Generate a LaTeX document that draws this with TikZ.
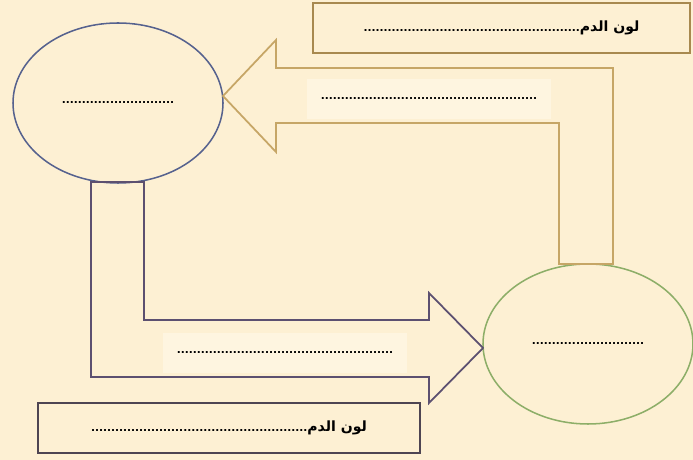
\documentclass[tikz,border=0pt]{standalone}
\usepackage{fontspec}
\usetikzlibrary{shapes.geometric}
\newfontfamily\arabicfont[Script=Arabic]{DejaVu Sans}
\TeXXeTstate=1
\definecolor{paper}{HTML}{FDF0D3}
\definecolor{bandlight}{HTML}{FEF5E0}
\definecolor{ringblue}{HTML}{56628E}
\definecolor{ringgreen}{HTML}{8DAE68}
\definecolor{tanline}{HTML}{C6A666}
\definecolor{tanbox}{HTML}{A8894F}
\definecolor{plumline}{HTML}{5C5070}
\definecolor{plumbox}{HTML}{4E4552}
\newcommand\dotrow[1]{{\arabicfont\bfseries\fontsize{9}{11}\selectfont\foreach\i in {1,...,#1}{.}}}
\newcommand\bloodcolour{\arabicfont\bfseries\beginR{\fontsize{12}{14}\selectfont لون الدم}\dotrow{54}\endR}
\begin{document}
\begin{tikzpicture}[x=0.03cm,y=-0.03cm,
  ring/.style={draw=#1,line width=1.3pt,ellipse,minimum width=6.3cm,minimum height=4.8cm,inner sep=0pt},
  namebox/.style={draw=#1,line width=1.5pt,minimum width=11.4cm,minimum height=1.5cm,inner sep=0pt},
  blockarrow/.style={draw=#1,line width=1.5pt,line join=miter},
  blank/.style={fill=bandlight,minimum height=1.2cm,inner xsep=12pt}]
\useasboundingbox (0,0) rectangle (693,460);
%page
\fill[paper] (0,0) rectangle (693,460);
%labels inside the arrows
\node[blank] (backlabel) at (429,99) {\dotrow{54}};
\node[blank] (outlabel) at (285,353) {\dotrow{54}};
%the two rings
\node[ring=ringblue] (leftring) at (118,103) {\dotrow{28}};
\node[ring=ringgreen] (rightring) at (588,344) {\dotrow{28}};
%block arrows
\draw[blockarrow=plumline] (91,182) |- (429,377) -- (429,403) -- (483,348) -- (429,293) -- (429,320) -| (144,182) -- cycle;
\draw[blockarrow=tanline] (559,264) |- (276,123) -- (276,152) -- (223,96) -- (276,40) -- (276,68) -| (613,264) -- cycle;
%colour boxes
\node[namebox=tanbox,minimum width=11.31cm] (topbox) at (501.5,28) {\bloodcolour};
\node[namebox=plumbox,minimum width=11.46cm] (bottombox) at (229,428) {\bloodcolour};
\end{tikzpicture}
\end{document}
